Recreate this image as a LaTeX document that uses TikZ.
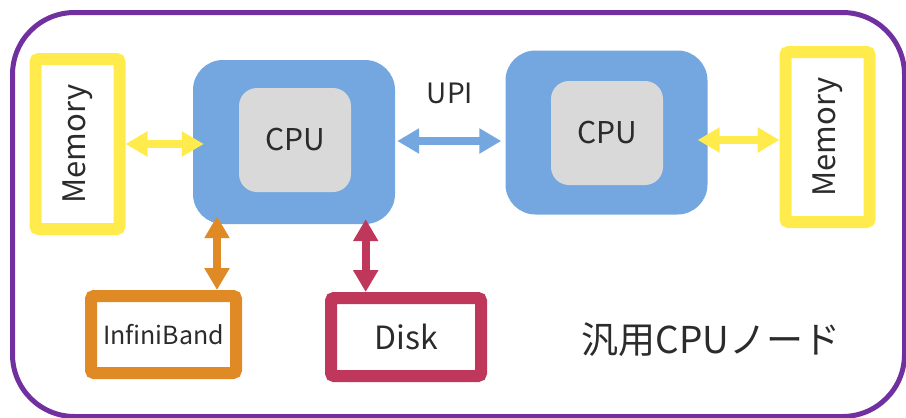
\documentclass[tikz,border=0pt]{standalone}
\usepackage{fontspec}
\setmainfont{Noto Sans CJK JP}
\usetikzlibrary{arrows.meta}
\definecolor{framepurple}{HTML}{7030A0}
\definecolor{memyellow}{HTML}{FFEC4C}
\definecolor{cpublue}{HTML}{74A7E0}
\definecolor{cpugrey}{HTML}{D9D9D9}
\definecolor{iborange}{HTML}{DF8A24}
\definecolor{diskred}{HTML}{BF375A}
\definecolor{txt}{HTML}{2B2B2B}
\tikzset{
  fs/.style={font=\fontsize{#1}{#1}\selectfont},
  membox/.style={draw=memyellow, line width=12pt, rounded corners=3pt, inner sep=0pt,
                 minimum width=84pt, minimum height=170pt, text=txt},
  cpuouter/.style={fill=cpublue, rounded corners=30pt, inner sep=0pt,
                   minimum width=202pt, minimum height=164pt},
  cpuinner/.style={fill=cpugrey, rounded corners=18pt, inner sep=0pt,
                   minimum width=112pt, minimum height=104pt, text=txt, fs=30pt},
  devbox/.style={line width=12pt, rounded corners=3pt, inner sep=0pt, text=txt},
  link/.style={line width=8pt,
               {Triangle[width=24pt,length=22pt]}-{Triangle[width=24pt,length=22pt]}},
}
\begin{document}
\begin{tikzpicture}[x=1pt,y=-1pt]
\useasboundingbox (0,0) rectangle (906,418);
% outer frame
\node[draw=framepurple, line width=5pt, rounded corners=62pt, inner sep=0pt,
      minimum width=892pt, minimum height=404pt] (frame) at (458.5,214.5) {};
% CPUs
\node[cpuouter] (cpuL) at (294,142) {};
\node[cpuinner] (cpuLi) at (295,140) {CPU};
\node[cpuouter] (cpuR) at (606.5,132.5) {};
\node[cpuinner] (cpuRi) at (607,133) {CPU};
% memories
\node[membox] (memL) at (77.5,144) {\rotatebox{90}{\fontsize{31pt}{31pt}\selectfont Memory}};
\node[membox] (memR) at (827.5,137) {\rotatebox{90}{\fontsize{31pt}{31pt}\selectfont Memory}};
% devices
\node[devbox, draw=iborange, minimum width=145pt, minimum height=77pt, fs=25pt] (ib) at (163.5,334.5) {InfiniBand};
\node[devbox, draw=diskred, minimum width=150pt, minimum height=78pt, fs=32pt] (disk) at (406,337) {Disk};
% labels
\node[text=txt, fs=28pt] (upi) at (450,93.5) {UPI};
\node[text=txt, fs=37pt] (title) at (711,340) {汎用CPUノード};
% connectors
\draw[link, draw=memyellow, fill=memyellow] (memL.east) -- ([xshift=11pt]memL.east -| cpuL.west);
\draw[link, draw=cpublue, fill=cpublue] ([xshift=2pt,yshift=1pt]cpuL.east) -- ([xshift=-4pt,yshift=1pt]cpuL.east -| cpuR.west);
\draw[link, draw=memyellow, fill=memyellow] ([yshift=-3pt]memR.west) -- ([xshift=-10pt,yshift=-3pt]memR.west -| cpuR.east);
\draw[link, draw=iborange, fill=iborange] ([xshift=-77pt,yshift=8pt]cpuL.south) -- ([xshift=53.5pt]ib.north);
\draw[link, draw=diskred, fill=diskred] ([xshift=71.7pt,yshift=5pt]cpuL.south) -- ([xshift=-40.3pt]disk.north);
\end{tikzpicture}
\end{document}
